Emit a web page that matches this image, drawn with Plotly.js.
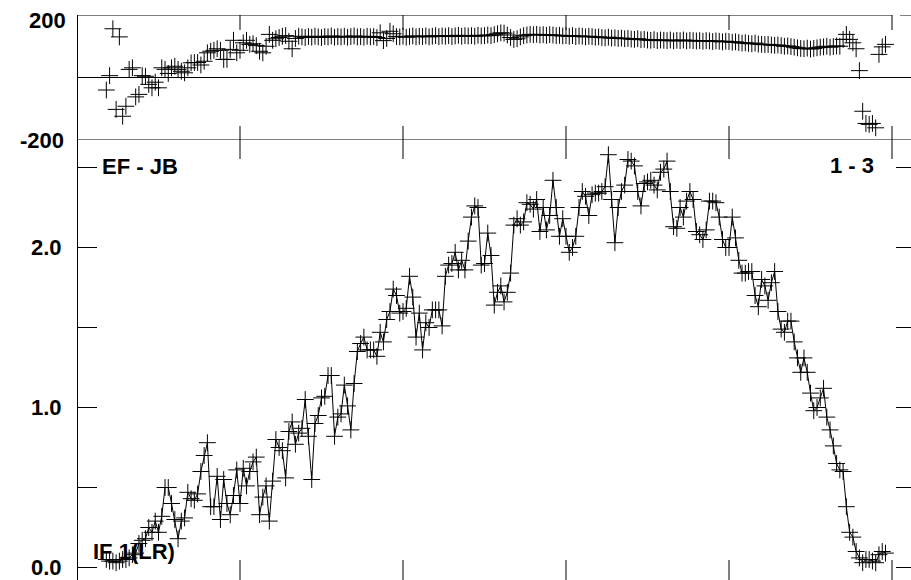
<!DOCTYPE html>
<html>
<head>
<meta charset="utf-8">
<script src="https://cdn.plot.ly/plotly-3.0.1.min.js"></script>
<style>
html,body{margin:0;padding:0;background:#fff;overflow:hidden}
#chart{width:911px;height:580px}
</style>
</head>
<body>
<div id="chart"></div>
<script>
// ---- data ----
const firstChannel = 9;

const amplitude = [
  0.05,0.04,0.04,0.03,0.04,0.05,0.05,0.06,0.08,0.09,
  0.15,0.17,0.18,0.25,0.22,0.29,0.22,0.32,0.50,0.50,
  0.40,0.30,0.18,0.29,0.31,0.47,0.43,0.42,0.46,0.60,
  0.70,0.78,0.38,0.38,0.57,0.30,0.55,0.40,0.33,0.45,
  0.61,0.40,0.62,0.51,0.60,0.66,0.69,0.33,0.44,0.51,
  0.29,0.54,0.80,0.75,0.73,0.56,0.85,0.91,0.77,0.84,
  0.87,1.05,0.82,0.55,0.90,0.95,1.06,1.07,1.20,1.20,
  0.82,0.94,0.96,1.14,1.01,0.86,1.15,1.35,1.40,1.44,
  1.36,1.36,1.36,1.32,1.47,1.41,1.55,1.60,1.74,1.70,
  1.59,1.60,1.62,1.82,1.69,1.44,1.59,1.36,1.53,1.50,
  1.61,1.61,1.61,1.51,1.82,1.89,1.90,1.97,1.86,1.92,
  1.86,2.04,2.19,2.26,2.25,1.89,1.90,2.09,1.95,1.64,
  1.72,1.76,1.66,1.72,1.84,2.14,2.18,2.14,2.16,2.28,
  2.27,2.24,2.30,2.10,2.25,2.11,2.20,2.42,2.25,2.07,
  2.18,2.07,1.97,2.00,2.07,2.25,2.35,2.32,2.20,2.33,
  2.34,2.34,2.35,2.38,2.58,2.30,2.03,2.25,2.35,2.39,
  2.55,2.54,2.51,2.35,2.26,2.40,2.41,2.42,2.39,2.36,
  2.47,2.49,2.54,2.35,2.13,2.12,2.25,2.19,2.29,2.35,
  2.30,2.10,2.08,2.05,2.11,2.29,2.29,2.28,2.19,2.05,
  2.00,2.00,2.19,2.06,1.92,1.84,1.84,1.85,1.85,1.70,
  1.63,1.80,1.76,1.67,1.78,1.85,1.60,1.49,1.47,1.54,
  1.54,1.41,1.31,1.22,1.31,1.22,1.09,0.98,1.00,1.06,
  1.12,0.94,0.86,0.76,0.65,0.61,0.60,0.38,0.22,0.19,
  0.10,0.06,0.03,0.05,0.05,0.04,0.03,0.08,0.10,0.09
];

const phase = [
  -40,6,156,-102,130,-124,-92,26,31,-62,
  -54,6,4,-22,-33,-15,-33,31,26,13,
  31,36,26,20,15,31,47,48,48,40,
  52,79,84,87,92,87,58,58,90,119,
  79,87,111,119,106,108,102,84,79,100,
  138,119,124,128,132,134,116,92,125,132,
  130,128,131,129,132,130,128,131,130,133,
  129,131,130,132,129,131,133,130,131,129,
  132,130,131,128,143,118,125,148,140,131,
  130,132,129,131,133,130,132,131,133,130,
  132,134,131,133,132,134,131,133,135,132,
  134,133,134,132,135,133,134,136,134,137,
  140,143,142,136,128,122,124,130,134,136,
  138,137,138,136,137,135,137,136,134,135,
  133,134,132,134,131,133,132,130,132,131,
  129,130,128,127,129,126,127,125,126,124,
  125,123,122,124,121,122,120,119,121,118,
  120,119,118,120,117,119,118,120,117,119,
  118,117,118,116,118,117,115,117,116,114,
  116,115,113,114,112,110,111,109,108,110,
  107,106,105,106,104,103,104,102,100,101,
  99,97,95,93,92,94,91,93,95,97,
  98,100,97,99,101,100,122,138,122,111,
  92,22,-108,-147,-150,-147,-161,74,98,106
];

const channels = amplitude.map((_, i) => firstChannel + i);

const xTicks = [50, 100, 150, 200, 250];
const ampTicks = [0, 0.5, 1, 1.5, 2, 2.5];
const ampLabelVals = [0, 1, 2];
const ampLabelText = ['0.0', '1.0', '2.0'];
const phaseLabelVals = [200, -200];
const phaseLabelText = ['200', '-200'];
const baselineLabel = 'EF - JB';
const stokesLabel = '1 - 3';
const ifLabel = 'IF 1(LR)';

// ---- geometry ----
const PLOT_L = 77, PLOT_W = 834;
const PX_PER_CH = 3.26;
const X_MAX = PLOT_W / PX_PER_CH;
const FRAME_R = (916 - PLOT_L) / PX_PER_CH;
const PH_PER_PX = 400 / 125;
const AMP_PER_PX = 1 / 160;
const AMP_MIN = -12.5 / 160, AMP_MAX = 427.5 / 160;
const SPLIT = 440 / 565;

const font = {family: 'Liberation Sans, Arial, sans-serif', size: 22, color: '#000'};
const marker = {symbol: 'cross-thin', size: 12, color: '#000', line: {width: 1, color: '#000'}};

const traces = [
  {x: channels, y: phase, xaxis: 'x', yaxis: 'y', type: 'scatter', mode: 'markers',
   marker: marker, hoverinfo: 'skip'},
  {x: channels, y: amplitude, xaxis: 'x', yaxis: 'y2', type: 'scatter', mode: 'lines+markers',
   line: {color: '#000', width: 1}, marker: marker, hoverinfo: 'skip'}
];

const L = {color: '#000', width: 1};
const shapes = [];
function seg(yref, x0, x1, y0, y1) {
  shapes.push({type: 'line', xref: 'x', yref: yref, x0: x0, x1: x1, y0: y0, y1: y1, line: L, layer: 'above'});
}
// left frame edge
shapes.push({type: 'line', xref: 'paper', yref: 'paper',
  x0: 0.5 / PLOT_W, x1: 0.5 / PLOT_W, y0: 0, y1: 1,
  line: {color: '#000', width: 1}, layer: 'above'});
// other frame lines
seg('y', 0, 250, 200, 200);
seg('y', 250 + 8 / PX_PER_CH, X_MAX, 200, 200);
seg('y', 0, X_MAX, 0, 0);
seg('y', 0, X_MAX, -200, -200);
// x ticks
xTicks.forEach(t => {
  seg('y', t, t, 200, 200 - 15 * PH_PER_PX);
  seg('y', t, t, -200, -200 + 14 * PH_PER_PX);
  seg('y2', t, t, AMP_MAX, AMP_MAX - 19 * AMP_PER_PX);
  seg('y2', t, t, AMP_MIN, AMP_MIN + 20 * AMP_PER_PX);
});
// amplitude y ticks (left and right)
ampTicks.forEach(v => {
  seg('y2', 0, 20 / PX_PER_CH, v, v);
  seg('y2', FRAME_R - 20 / PX_PER_CH, X_MAX, v, v);
});

const annotations = [];
function lab(text, xref, x, xanchor, yref, y, yshift) {
  annotations.push({text: '<b>' + text + '</b>', xref: xref, x: x, xanchor: xanchor,
    yref: yref, y: y, yanchor: 'middle', yshift: yshift || 0, showarrow: false, font: font});
}
lab(phaseLabelText[0], 'paper', (68 - PLOT_L) / PLOT_W, 'right', 'y', phaseLabelVals[0], -5);
lab(phaseLabelText[1], 'paper', (66 - PLOT_L) / PLOT_W, 'right', 'y', phaseLabelVals[1], 0);
ampLabelVals.forEach((v, i) => lab(ampLabelText[i], 'paper', (64 - PLOT_L) / PLOT_W, 'right', 'y2', v, 0));
lab(baselineLabel, 'x', (100 - PLOT_L) / PX_PER_CH, 'left', 'y2', (567.5 - 166) / 160, 0);
lab(stokesLabel, 'x', (876 - PLOT_L) / PX_PER_CH, 'right', 'y2', (567.5 - 165) / 160, 0);
lab(ifLabel, 'x', (91 - PLOT_L) / PX_PER_CH, 'left', 'y2', (567.5 - 551) / 160, 0);

const hidden = {showgrid: false, zeroline: false, showline: false, ticks: '', showticklabels: false};
const layout = {
  width: 911, height: 580,
  margin: {l: PLOT_L, r: 0, t: 15, b: 0, pad: 0},
  paper_bgcolor: '#fff', plot_bgcolor: '#fff',
  showlegend: false,
  xaxis: Object.assign({range: [0, X_MAX], anchor: 'y2', domain: [0, 1]}, hidden),
  yaxis: Object.assign({range: [-200, 200], domain: [SPLIT, 1], anchor: 'x'}, hidden),
  yaxis2: Object.assign({range: [AMP_MIN, AMP_MAX], domain: [0, SPLIT], anchor: 'x'}, hidden),
  shapes: shapes,
  annotations: annotations
};

Plotly.newPlot('chart', traces, layout, {staticPlot: true, displayModeBar: false, responsive: false});
</script>
</body>
</html>
